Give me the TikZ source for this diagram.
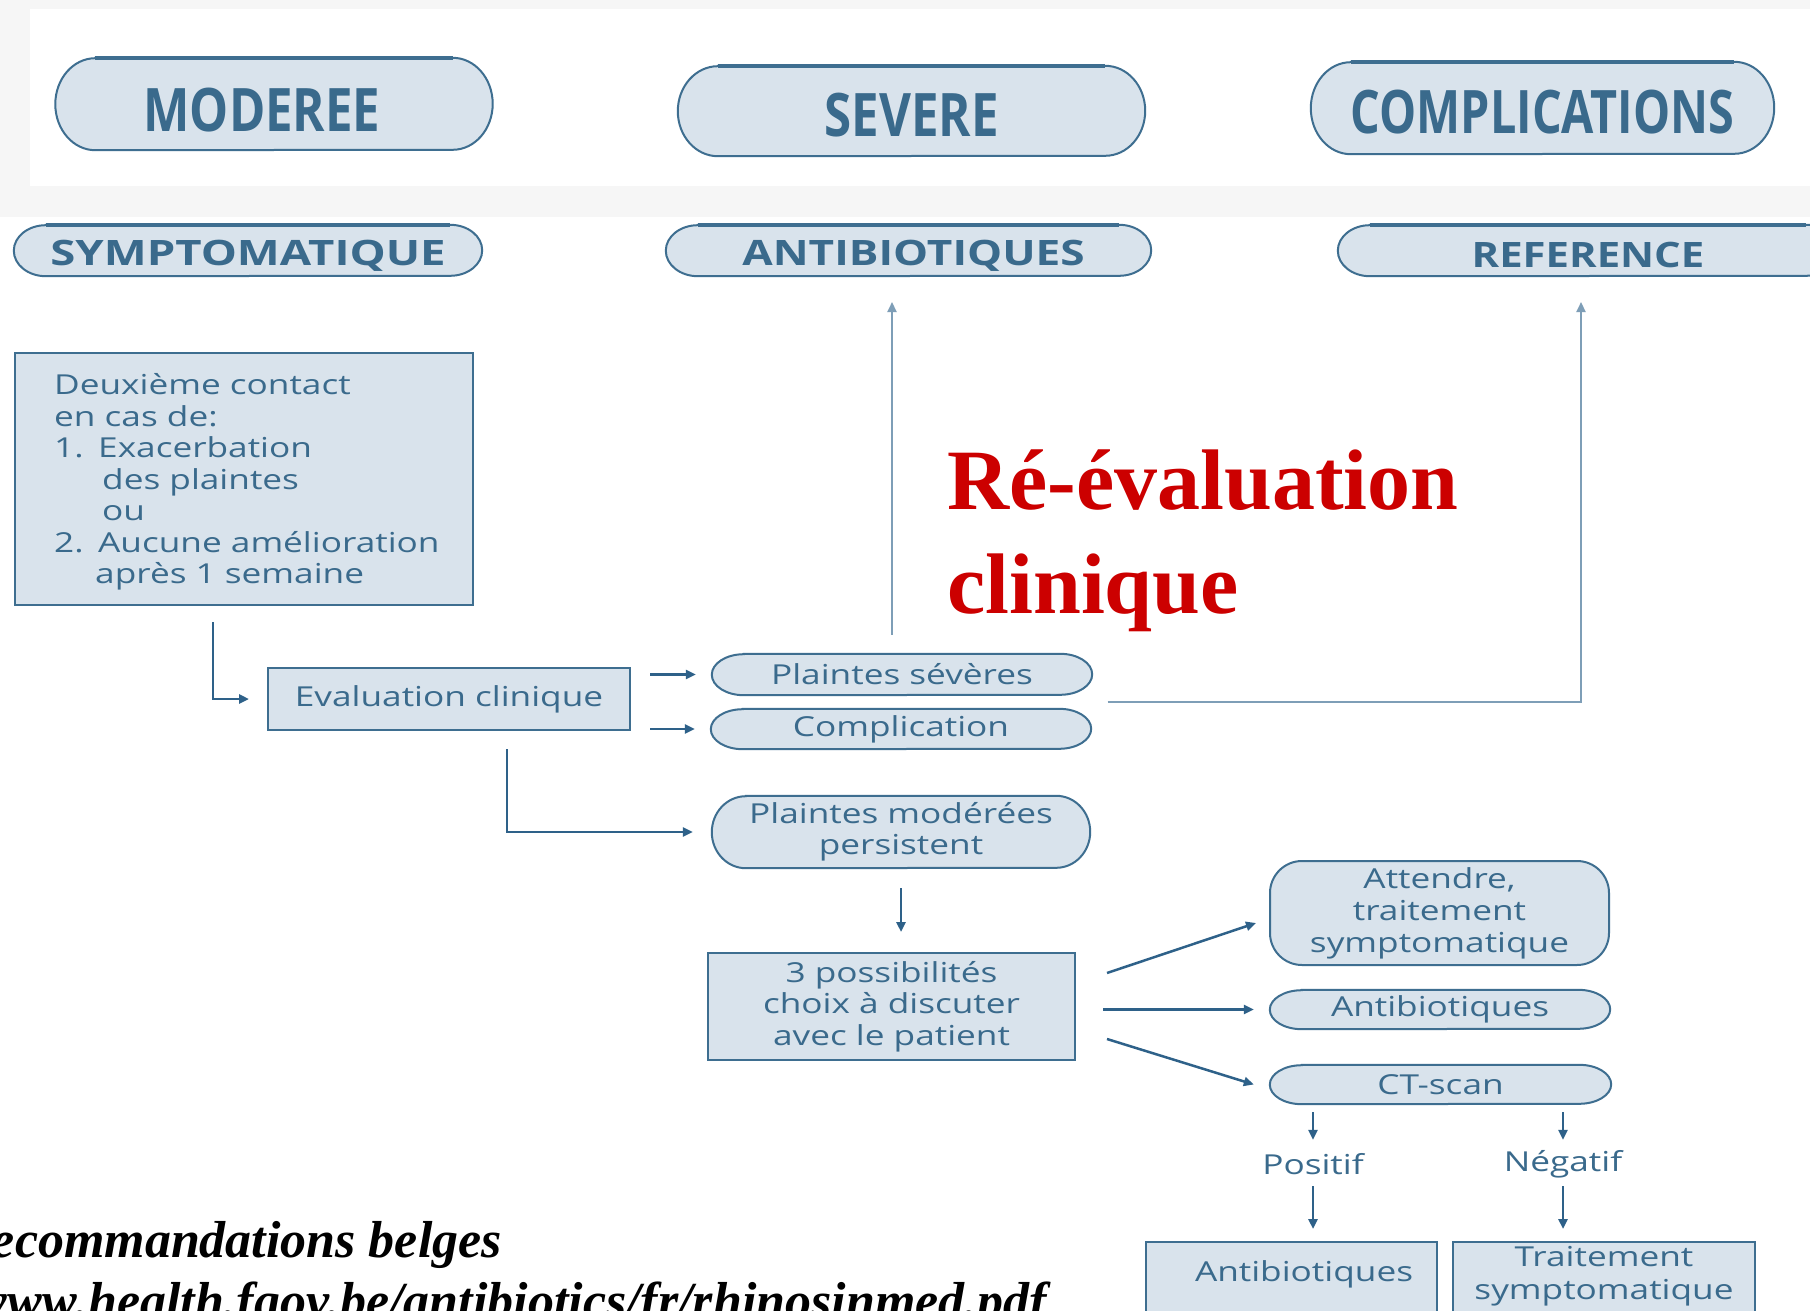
\documentclass[tikz,border=0pt]{standalone}
\usepackage{fontspec}
\usetikzlibrary{arrows.meta,calc,backgrounds}
\newfontfamily\bodyf{Open Sans}[FakeStretch=1.28]
\newfontfamily\hdrf{Open Sans}[FakeStretch=0.82]
\newfontfamily\rowf{Open Sans}[FakeStretch=1.3]
\newfontfamily\serf{Liberation Serif}
\definecolor{pillfill}{HTML}{D9E3EC}
\definecolor{bdr}{HTML}{3E6E90}
\definecolor{txt}{HTML}{3A6A8C}
\definecolor{lnk}{HTML}{2E6189}
\definecolor{lnkl}{HTML}{7E9EB7}
\definecolor{bggray}{HTML}{F6F6F6}
\definecolor{redt}{HTML}{CC0000}
\tikzset{
  base/.style={inner sep=0pt, text=txt},
  bodyfont/.style={font=\bodyf\fontsize{27.5}{31.5}\selectfont},
  boxn/.style={base, bodyfont, draw=bdr, fill=pillfill, line width=2pt, align=center},
  pilln/.style={base, bodyfont, align=center},
  lbl/.style={base, bodyfont},
  hdr/.style={base, font=\hdrf\bfseries\fontsize{60}{60}\selectfont},
  rowh/.style={base, font=\rowf\bfseries\fontsize{35}{35}\selectfont},
  pillsty/.style={draw=bdr, fill=pillfill, line width=2pt},
  arr/.style={draw=lnk, line width=2.5pt, -{Triangle[length=10pt,width=9pt]}},
  arrl/.style={arr, draw=lnkl, line width=2pt},
  redtxt/.style={inner sep=0pt, text=redt, anchor=base west, font=\serf\bfseries\fontsize{86}{104}\selectfont},
  srctxt/.style={inner sep=0pt, text=black, anchor=base east, font=\serf\bfseries\itshape\fontsize{52}{52}\selectfont},
}
\newcommand{\pillshape}[3]{%
  \path[pillsty] ([xshift=#2pt]#1.north west) -- ([xshift=-#2pt]#1.north east)
    arc[start angle=90,end angle=-90,x radius=#2pt,y radius=#3pt]
    -- ([xshift=#2pt]#1.south west)
    arc[start angle=270,end angle=90,x radius=#2pt,y radius=#3pt] -- cycle;
  \draw[bdr, line width=3.5pt] ([xshift=#2pt]#1.north west) -- ([xshift=-#2pt]#1.north east);}
\newcommand{\pillshapeb}[3]{%
  \path[pillsty] ([xshift=#2pt]#1.north west) -- ([xshift=-#2pt]#1.north east)
    arc[start angle=90,end angle=-90,x radius=#2pt,y radius=#3pt]
    -- ([xshift=#2pt]#1.south west)
    arc[start angle=270,end angle=90,x radius=#2pt,y radius=#3pt] -- cycle;}
\newcommand{\low}[2]{\raisebox{-#1pt}[\height][\depth]{#2}}
\begin{document}
\begin{tikzpicture}[x=1pt,y=-1pt]
\useasboundingbox (0,0) rectangle (1810,1311);
\clip (0,0) rectangle (1810,1311);
% headers
\node[hdr, minimum width=437pt, minimum height=92pt] (hMod) at (274,104) {\low{6}{MODEREE}\hspace*{24pt}};
\node[hdr, minimum width=467pt, minimum height=90pt] (hSev) at (911.5,111) {\low{4}{SEVERE}};
\node[hdr, minimum width=463pt, minimum height=92pt] (hComp) at (1542.5,108) {\low{4}{\scalebox{0.95}[1]{COMPLICATIONS}}};
\node[rowh, minimum width=468pt, minimum height=51pt] (rSym) at (248,250.5) {\low{5}{SYMPTOMATIQUE}};
\node[rowh, minimum width=485pt, minimum height=51pt] (rAb) at (908.5,250.5) {\low{5}{\scalebox{0.97}[1]{ANTIBIOTIQUES}}\hspace*{-10pt}};
\node[rowh, minimum width=500pt, minimum height=51pt] (rRef) at (1588,250.5) {\low{4}{\scalebox{0.92}[1]{REFERENCE}}};
% boxes
\node[boxn, anchor=north west, minimum width=458pt, minimum height=252pt] (deux) at (14,352) {};
\node[lbl, align=left, anchor=west] (deuxT) at (54,482)
 {Deuxième contact\\
  en cas de:\\
  \makebox[44pt][l]{1.}Exacerbation\\
  \hspace*{48pt}des plaintes\\
  \hspace*{48pt}ou\\
  \makebox[44pt][l]{2.}Aucune amélioration\\
  \hspace*{41pt}après 1 semaine};
\node[boxn, minimum width=362pt, minimum height=62pt] (eval) at (449,699) {Evaluation clinique};
\node[pilln, minimum width=380pt, minimum height=41pt] (sev) at (902,674.5) {Plaintes sévères};
\node[pilln, minimum width=380pt, minimum height=40pt] (comp) at (901,729) {Complication};
\node[pilln, minimum width=378pt, minimum height=72pt] (mod) at (901,832) {Plaintes modérées\\persistent};
\node[boxn, minimum width=367pt, minimum height=107pt] (poss) at (891.5,1006.5) {3 possibilités\\choix à discuter\\avec le patient};
\node[boxn, rounded corners=32pt, minimum width=339pt, minimum height=104pt,
      font=\bodyf\fontsize{27.5}{32}\selectfont] (att) at (1439.5,913) {Attendre,\\traitement\\symptomatique};
\node[pilln, minimum width=340pt, minimum height=39pt] (anti) at (1440,1009.5) {Antibiotiques};
\node[pilln, minimum width=341pt, minimum height=39pt] (ct) at (1440.5,1084.5) {CT-scan};
\node[lbl, minimum height=44pt] (pos) at (1313,1164) {Positif};
\node[lbl, minimum height=44pt] (neg) at (1563,1164) {Négatif};
\node[boxn, minimum width=291pt, minimum height=90pt, anchor=north] (bA) at (1291.5,1241) {};
\node[pilln] (tA) at (1304,1274) {Antibiotiques};
\node[boxn, minimum width=302pt, minimum height=90pt, anchor=north] (bT) at (1604,1241) {};
\node[pilln, font=\bodyf\fontsize{27.5}{33}\selectfont] (tT) at (1604,1276) {Traitement\\symptomatique};
% red text
\node[redtxt] (re1) at (947,509) {Ré-évaluation};
\node[redtxt] (re2) at (947,613) {clinique};
% source (cut by the picture's edges, as in the reference)
\node[srctxt] (src1) at (502,1257) {Recommandations belges};
\node[srctxt] (src2) at (1047,1318) {www.health.fgov.be/antibiotics/fr/rhinosinmed.pdf};
% free ends
\coordinate (upA) at (892,302);
\coordinate (upR) at (1581,302);
% connectors
\draw[arr] ([shift={(199,16)}]deux.south west) |- ([xshift=-18pt]eval.west);
\draw[arr] ([xshift=19pt]eval.east |- sev.west) -- ([xshift=-16pt]sev.west);
\draw[arr] ([xshift=19pt]eval.east |- comp.west) -- ([xshift=-16pt]comp.west);
\draw[arr] ([shift={(240,18)}]eval.south west) |- ([xshift=-19pt]mod.west);
\draw[arr, shorten <=20pt, shorten >=20pt] (mod.south) -- (mod.south |- poss.north);
\draw[arrl] ([xshift=-10pt,yshift=19pt]sev.north) -- (upA);
\draw[arrl] ([xshift=16pt]$(sev.south east)!.5!(comp.north east)$) -| (upR);
\draw[arr] ([shift={(31,-33.5)}]poss.east) -- ([shift={(-13,10)}]att.west);
\draw[arr] ([xshift=27pt]poss.east |- anti.west) -- ([xshift=-16pt]anti.west);
\draw[arr] ([shift={(31,32.5)}]poss.east) -- ([xshift=-16pt]ct.west);
\draw[arr, shorten <=8pt, shorten >=2pt] (ct.south -| pos.north) -- (pos.north);
\draw[arr, shorten <=8pt, shorten >=2pt] (ct.south -| neg.north) -- (neg.north);
\draw[arr, shorten >=12pt] (pos.south) -- (pos.south |- bA.north);
\draw[arr, shorten >=12pt] (neg.south) -- (neg.south |- bT.north);
% backgrounds and pill outlines
\begin{pgfonlayer}{background}
\fill[white] (0,0) rectangle (1810,1311);
\fill[bggray] (0,0) rectangle (1810,217);
\fill[white] (30,9) rectangle (1810,186);
\pillshape{hMod}{40}{46}
\pillshape{hSev}{40}{45}
\pillshape{hComp}{40}{46}
\pillshape{rSym}{32}{25.5}
\pillshape{rAb}{32}{25.5}
\pillshape{rRef}{32}{25.5}
\pillshapeb{sev}{32}{20.5}
\pillshapeb{comp}{32}{20}
\pillshapeb{mod}{34}{36}
\pillshapeb{anti}{32}{19.5}
\pillshapeb{ct}{32}{19.5}
\end{pgfonlayer}
\end{tikzpicture}
\end{document}
